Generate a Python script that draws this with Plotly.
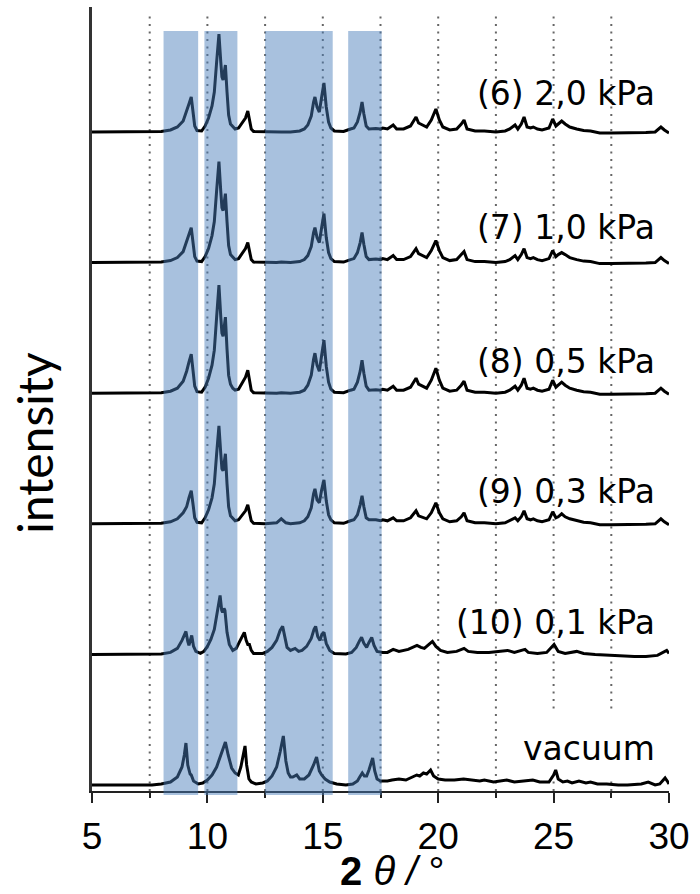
import plotly.graph_objects as go

# Diffraction angle 2θ (°) sampled along the hydrated patterns (6)–(9)
TT_HYD = [
    5.0, 7.5, 8.0, 8.4, 8.7, 8.95, 9.1, 9.2, 9.3, 9.38,
    9.45, 9.55, 9.75, 9.9, 10.05, 10.2, 10.3, 10.4, 10.5, 10.58,
    10.63, 10.68, 10.73, 10.78, 10.85, 10.92, 11.0, 11.1, 11.2, 11.35,
    11.5, 11.65, 11.75, 11.82, 11.9, 12.0, 12.5, 13.0, 13.2, 13.4,
    13.6, 14.0, 14.2, 14.35, 14.5, 14.6, 14.66, 14.75, 14.85, 14.95,
    15.05, 15.15, 15.25, 15.35, 15.5, 15.9, 16.05, 16.2, 16.35, 16.5,
    16.62, 16.7, 16.78, 16.88, 17.0, 17.3, 17.5, 17.6, 17.8, 18.05,
    18.2, 18.5, 18.8, 19.04, 19.15, 19.25, 19.5, 19.7, 19.9, 20.05,
    20.2, 20.5, 20.8, 21.0, 21.12, 21.25, 21.6, 22.0, 22.5, 22.9,
    23.1, 23.33, 23.45, 23.6, 23.72, 23.85, 24.0, 24.12, 24.3, 24.5,
    24.8, 24.96, 25.1, 25.2, 25.35, 25.5, 25.7, 26.0, 26.3, 26.6,
    27.0, 27.5, 28.0, 28.5, 29.0, 29.4, 29.65, 29.8, 30.0,
]

# Intensities (a.u.) for each humidity step
I_6 = [
    0, 0, 0.5, 2, 5, 11, 20, 28, 35, 20,
    6, 1.5, 1, 6, 14, 26, 40, 70, 98, 70,
    55, 52, 62, 67, 40, 17, 8, 5, 3, 4,
    9, 14, 21, 12, 3, 0.5, 0, 0, 0, 0,
    0, 1, 3, 7, 16, 30, 35, 25, 20, 35,
    49, 25, 10, 4, 1, 0.5, 2, 3, 4, 10,
    20, 30, 18, 6, 3, 3.5, 3, 4, 3, 7,
    3, 3, 6, 15, 9, 8, 5, 12, 23, 12,
    5, 2, 3, 8, 12, 3, 1, 1, 0, 1,
    3, 7, 3, 8, 15, 5, 4, 5, 3, 2,
    4, 13, 6, 8, 11, 8, 5, 3, 1.5, 1,
    -1, -1, -1, -1, -0.5, 0, 5, 2, -1,
]
I_7 = [
    0, 0, 0.5, 2, 5, 11, 20, 28, 35, 20,
    6, 1.5, 1, 6, 14, 27, 41, 72, 101, 71,
    55, 52, 62, 69, 41, 17, 8, 5, 3, 4,
    9, 14, 20, 12, 3, 0.5, 0, 0, 0.5, 0,
    0, 1, 3, 7, 16, 30, 35, 25, 20, 35,
    49, 25, 10, 4, 1, 0.5, 2, 3, 4, 10,
    20, 30, 18, 6, 3, 3.5, 3, 4, 3, 7,
    3, 3, 6, 14, 9, 8, 5, 12, 22, 12,
    5, 2, 3, 8, 11, 3, 1, 1, 0, 1,
    3, 7, 3, 8, 14, 5, 4, 5, 3, 2,
    4, 12, 6, 8, 10, 8, 5, 3, 1.5, 1,
    -1, -1, -1, -1, -0.5, 0, 5, 2, -1,
]
I_8 = [
    0, 0, 0.5, 2, 5, 12, 22, 31, 39, 22,
    7, 1.5, 1, 6, 15, 28, 43, 76, 108, 76,
    60, 57, 68, 76, 44, 18, 9, 5, 3, 4,
    10, 16, 23, 13, 3, 0.5, 0, 0, 0.5, 0,
    0, 1, 3, 8, 18, 34, 40, 28, 22, 38,
    53, 27, 11, 4, 1, 0.5, 2, 3, 4, 11,
    22, 33, 20, 7, 3, 3.5, 3, 4, 3, 7,
    3, 3, 6, 15, 9, 8, 5, 13, 25, 13,
    5, 2, 3, 8, 12, 3, 1, 1, 0, 1,
    3, 7, 3, 8, 15, 5, 4, 5, 3, 2,
    4, 13, 6, 8, 11, 8, 5, 3, 1.5, 1,
    -1, -1, -1, -1, -0.5, 0, 5, 2, -1,
]
I_9 = [
    0, 0, 0.5, 2, 5, 11, 17, 26, 33, 19,
    6, 1.5, 1, 6, 14, 26, 40, 70, 98, 70,
    55, 53, 64, 70, 40, 17, 8, 5, 3, 4,
    8, 13, 19, 11, 3, 0.5, 0, 1, 5, 1,
    0, 1, 3, 7, 16, 30, 35, 24, 21, 34,
    44, 23, 9, 4, 1, 0.5, 2, 3, 4, 9,
    19, 28, 17, 6, 4, 4, 3, 4, 3, 6,
    3, 3, 6, 13, 8, 7, 5, 11, 21, 11,
    5, 2, 3, 7, 11, 3, 1, 1, 0, 1,
    3, 6, 3, 7, 13, 5, 4, 5, 3, 2,
    4, 12, 6, 7, 10, 7, 5, 3, 1.5, 1,
    -1, -1, -1, -1, -0.5, 0, 5, 2, -1,
]

# Pattern (10), 0.1 kPa
TT_10 = [
    5.0, 7.5, 8.0, 8.4, 8.7, 8.9, 9.07, 9.15, 9.2, 9.26,
    9.32, 9.4, 9.5, 9.7, 9.85, 10.0, 10.15, 10.3, 10.42, 10.55,
    10.62, 10.66, 10.72, 10.76, 10.85, 10.95, 11.1, 11.25, 11.4, 11.5,
    11.6, 11.68, 11.75, 11.82, 11.9, 12.0, 12.4, 12.6, 12.8, 13.0,
    13.15, 13.26, 13.35, 13.45, 13.6, 13.8, 13.95, 14.1, 14.3, 14.5,
    14.62, 14.69, 14.78, 14.88, 14.96, 15.05, 15.15, 15.3, 15.5, 16.0,
    16.25, 16.45, 16.6, 16.68, 16.78, 16.9, 17.0, 17.12, 17.22, 17.35,
    17.6, 17.8, 18.05, 18.3, 18.7, 18.9, 19.08, 19.25, 19.4, 19.6,
    19.75, 19.9, 20.1, 20.4, 20.8, 21.12, 21.3, 21.7, 22.2, 22.6,
    23.0, 23.3, 23.5, 23.76, 23.9, 24.3, 24.7, 25.02, 25.2, 25.5,
    26.0, 26.3, 26.8, 27.5, 28.0, 28.5, 29.0, 29.5, 29.9, 30.0,
]
I_10 = [
    0, 0, 0.5, 2, 6, 14, 23, 13, 9, 14,
    19, 8, 3, 1, 3, 8, 15, 25, 40, 59,
    44, 42, 46, 44, 22, 10, 4, 6, 13, 18,
    22, 14, 10, 10, 4, 1, 1, 3, 7, 14,
    24, 28, 16, 7, 4, 6, 3, 4, 8, 16,
    25, 28, 18, 14, 20, 22, 11, 4, 1, 0.5,
    2, 7, 14, 17, 11, 7, 12, 17, 9, 3,
    2, 2, 5, 3, 5, 7, 9, 7, 6, 10,
    13, 8, 4, 2, 3, 6, 3, 2, 2, 3,
    4, 2, 3, 5, 2, 1, 2, 10, 3, 1,
    3, 1, 0, -1, -2, -2, -2, -1, 4, 1,
]

# Dehydrated pattern under vacuum
TT_VAC = [
    5.0, 7.6, 8.0, 8.4, 8.7, 8.9, 9.0, 9.07, 9.15, 9.25,
    9.3, 9.4, 9.6, 9.8, 10.0, 10.2, 10.4, 10.6, 10.78, 10.9,
    11.05, 11.2, 11.34, 11.45, 11.55, 11.63, 11.7, 11.8, 11.9, 12.1,
    12.4, 12.6, 12.8, 13.0, 13.15, 13.29, 13.4, 13.5, 13.6, 13.7,
    13.87, 14.0, 14.2, 14.4, 14.6, 14.73, 14.85, 14.95, 15.1, 15.3,
    15.6, 16.0, 16.3, 16.5, 16.6, 16.71, 16.8, 16.9, 17.0, 17.1,
    17.16, 17.25, 17.35, 17.5, 17.8, 18.0, 18.3, 18.6, 18.9, 19.07,
    19.2, 19.36, 19.5, 19.67, 19.8, 20.0, 20.3, 20.7, 21.1, 21.4,
    21.8, 22.0, 22.4, 22.97, 23.3, 23.7, 24.1, 24.4, 24.8, 25.0,
    25.09, 25.2, 25.4, 25.6, 25.8, 26.1, 26.4, 26.6, 26.9, 27.3,
    27.8, 28.2, 28.8, 29.1, 29.4, 29.6, 29.83, 29.95, 30.0,
]
I_VAC = [
    0, 0, 1, 3, 8, 18, 30, 42, 20, 11,
    10, 4, 1, 2, 5, 10, 18, 32, 43, 30,
    17, 12, 10, 18, 30, 39, 20, 6, 3, 1,
    2, 4, 9, 18, 33, 49, 24, 12, 8, 8,
    10, 6, 6, 10, 20, 28, 14, 10, 6, 3,
    1, 0, 1, 4, 8, 12, 9, 9, 15, 23,
    27, 14, 6, 4, 4, 5, 6, 5, 8, 10,
    9, 12, 11, 15, 9, 6, 5, 5, 6, 5,
    4, 5, 3, 5, 3, 4, 5, 3, 3, 10,
    15, 6, 3, 4, 2, 4, 2, 3, 1, 1,
    0, 0, 1, 3, 0, 1, 7, 3, 1,
]

# Stacked from bottom to top
PATTERNS = [
    ("vacuum", TT_VAC, I_VAC),
    ("(10) 0,1 kPa", TT_10, I_10),
    ("(9) 0,3 kPa", TT_HYD, I_9),
    ("(8) 0,5 kPa", TT_HYD, I_8),
    ("(7) 1,0 kPa", TT_HYD, I_7),
    ("(6) 2,0 kPa", TT_HYD, I_6),
]

# Highlighted 2θ windows (°)
REGIONS = [(8.1, 9.6), (9.87, 11.3), (12.5, 15.43), (16.1, 17.55)]

X_TICKS = [5, 10, 15, 20, 25, 30]
GRID_LINES = [7.5, 10, 12.5, 15, 17.5, 20, 22.5, 25, 27.5]

# Vertical stacking offset between patterns and label lift above each baseline
STACK_BASE = 6
STACK_STEP = 130.6
LABEL_LIFT = [37, 32, 32, 32, 35, 39]

fig = go.Figure()

for k, (name, tt, inten) in enumerate(PATTERNS):
    assert len(tt) == len(inten)
    base = STACK_BASE + k * STACK_STEP
    fig.add_trace(go.Scatter(
        x=tt, y=[v + base for v in inten], mode="lines", name=name,
        line=dict(color="black", width=3), hoverinfo="skip",
        showlegend=False, cliponaxis=False,
    ))
    fig.add_annotation(
        x=29.48, y=base + LABEL_LIFT[k], xref="x", yref="y",
        text=name, showarrow=False, xanchor="right", yanchor="middle",
        font=dict(family="DejaVu Sans", size=33, color="black"),
    )

# White patch behind the "vacuum" label (between grid and traces)
fig.add_shape(type="rect", xref="x", yref="y", x0=23.7, x1=30, y0=10, y1=79,
              fillcolor="white", line=dict(width=0), layer="between")

# Dotted reference lines
for g in GRID_LINES:
    fig.add_shape(type="line", xref="x", yref="paper", x0=g, x1=g, y0=0, y1=0.993,
                  line=dict(color="#666666", width=2, dash="2px,5.5px"), layer="below")

for x0, x1 in REGIONS:
    fig.add_shape(type="rect", xref="x", yref="paper", x0=x0, x1=x1,
                  y0=-0.005, y1=0.9695, fillcolor="#4a7dbb", opacity=0.48,
                  line=dict(width=0), layer="above")

fig.update_layout(
    width=700, height=894,
    margin=dict(l=92, r=31, t=7, b=103),
    paper_bgcolor="white", plot_bgcolor="white",
    xaxis=dict(
        range=[5, 30], tickvals=X_TICKS, ticktext=[str(t) for t in X_TICKS],
        ticks="outside", ticklen=10, tickwidth=1.6, tickcolor="#222",
        ticklabelstandoff=1,
        showline=True, linewidth=2.4, linecolor="#222", showgrid=False, zeroline=False,
        minor=dict(tickvals=[7.5, 12.5, 17.5, 22.5, 27.5], ticks="outside",
                   ticklen=5, tickwidth=1.6, tickcolor="#222", showgrid=False),
        tickfont=dict(family="Liberation Sans", size=37, color="black"),
    ),
    yaxis=dict(
        range=[0, 784], showticklabels=False, ticks="", showgrid=False,
        zeroline=False, showline=True, linewidth=2.6, linecolor="#333",
    ),
)

fig.add_annotation(
    xref="paper", yref="paper", x=-0.099, y=0.444, textangle=-90,
    text="intensity", showarrow=False, xanchor="center", yanchor="middle",
    font=dict(family="Lato", size=48, color="black"),
)
fig.add_annotation(
    xref="paper", yref="paper", x=0.52, y=-0.1314,
    text="<b>2</b>\u00a0<i>θ</i>\u00a0<i>/</i>\u00a0°", showarrow=False,
    xanchor="center", yanchor="bottom", borderpad=0,
    font=dict(family="Liberation Sans", size=40, color="black"),
)

fig.write_html("out.html")
